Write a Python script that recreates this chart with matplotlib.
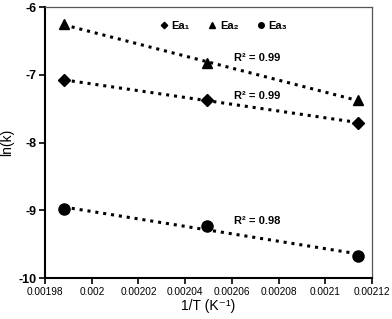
import numpy as np
import matplotlib
matplotlib.use("Agg")
import matplotlib.pyplot as plt

plt.rcParams['font.family'] = ['Liberation Sans', 'DejaVu Sans']

# 1/T for 503, 488, 473 K
inv_t = [1 / 503, 1 / 488, 1 / 473]
ea1 = [-7.08, -7.37, -7.71]
ea2 = [-6.25, -6.83, -7.37]
ea3 = [-8.98, -9.23, -9.67]
series = ['Ea₁', 'Ea₂', 'Ea₃']
r2 = ['R² = 0.99', 'R² = 0.99', 'R² = 0.98']
x_ticks = [0.00198, 0.002, 0.00202, 0.00204, 0.00206, 0.00208, 0.0021, 0.00212]
x_tick_labels = ['0.00198', '0.002', '0.00202', '0.00204', '0.00206', '0.00208', '0.0021', '0.00212']
y_ticks = [-10, -9, -8, -7, -6]

fig = plt.figure(figsize=(3.92, 3.19), dpi=100)
ax = fig.add_axes([0.115, 0.128, 0.834, 0.850])

markers = ['D', '^', 'o']
sizes = [6.5, 7.5, 8]
label_pos = [(0.002061, -7.31), (0.002061, -6.75), (0.002061, -9.16)]
for ys, m, s, name, r, pos in zip([ea1, ea2, ea3], markers, sizes, series, r2, label_pos):
    ax.plot(inv_t, ys, linestyle='none', marker=m, markersize=s, color='black', label=name)
    # linear trendline through the points
    k, b = np.polyfit(inv_t, ys, 1)
    xs = np.array([inv_t[0], inv_t[-1]])
    ax.plot(xs, k * xs + b, linestyle=(0, (1, 1.6)), linewidth=2.2, color='black')
    ax.text(pos[0], pos[1], r, fontsize=8, fontweight='bold', ha='left', va='center')

ax.set_xlim(0.00198, 0.00212)
ax.set_ylim(-10, -6)
ax.set_xticks(x_ticks)
ax.set_xticklabels(x_tick_labels, fontsize=7.3)
ax.set_yticks(y_ticks)
ax.set_yticklabels([str(v) for v in y_ticks], fontsize=9, fontweight='bold')
ax.tick_params(direction='out', length=4, width=1.2, pad=2)

for side in ['left', 'bottom']:
    ax.spines[side].set_linewidth(1.5)
for side in ['top', 'right']:
    ax.spines[side].set_linewidth(0.9)
    ax.spines[side].set_color('#555555')

ax.set_xlabel('1/T (K⁻¹)', fontsize=10, labelpad=2)
ax.set_ylabel('ln(k)', fontsize=10, labelpad=3)

ax.legend(loc='upper center', bbox_to_anchor=(0.545, 0.985), ncol=3, frameon=False,
          markerscale=0.5, handlelength=0.8, handletextpad=0.3, columnspacing=1.6,
          prop={'size': 8, 'weight': 'bold'})

fig.savefig('out.png', dpi=100)
